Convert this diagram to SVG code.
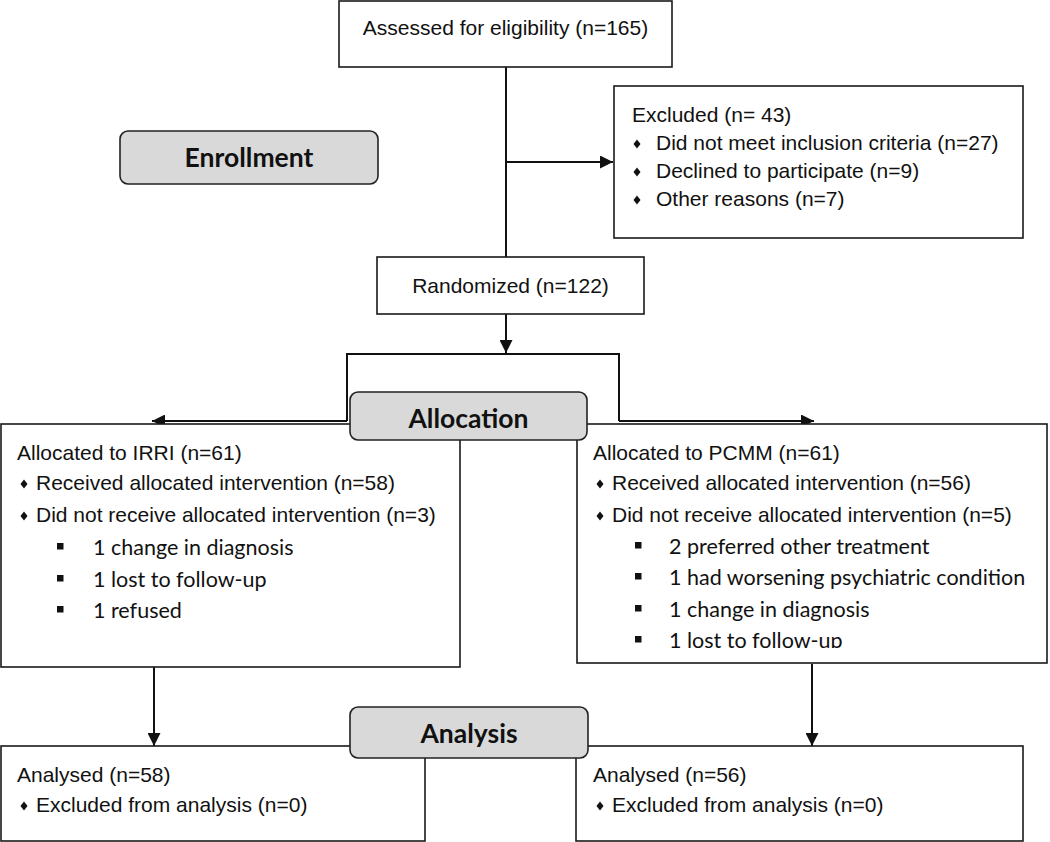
<svg xmlns="http://www.w3.org/2000/svg" width="1050" height="842" viewBox="0 0 1050 842">
<style>
.box{fill:#fff;stroke:#1a1a1a;stroke-width:1.6}
.lab{fill:#d9d9d9;stroke:#222;stroke-width:1.6}
.t{font-family:"Liberation Sans",Arial,sans-serif;font-size:21px;fill:#111}
.s{font-family:Lato,"Open Sans",sans-serif;font-size:21.5px;fill:#111}
.b{font-family:Lato,"Open Sans",sans-serif;font-size:26.5px;font-weight:bold;fill:#111;text-anchor:middle}
.ln{fill:none;stroke:#111;stroke-width:2}
</style>
<defs>
<marker id="ah" viewBox="0 0 10 10" refX="10" refY="5" markerWidth="6.5" markerHeight="6.5" orient="auto" markerUnits="strokeWidth">
<path d="M0,0 L10,5 L0,10 z" fill="#111"/>
</marker>
<path id="dia" d="M0,-4.5 L3.5,0 L0,4.5 L-3.5,0 z" fill="#111"/>
<rect id="sq" x="0" y="-11" width="6.5" height="6.5" fill="#111"/>
<clipPath id="clipR"><rect x="577" y="423" width="470" height="225"/></clipPath>
</defs>

<g id="connectors">
<line class="ln" x1="506" y1="67" x2="506" y2="257"/>
<line class="ln" x1="506" y1="162" x2="613" y2="162" marker-end="url(#ah)"/>
<line class="ln" x1="506" y1="314" x2="506" y2="353" marker-end="url(#ah)"/>
<polyline class="ln" points="347,421 347,354 619,354 619,421"/>
<line class="ln" x1="347" y1="421" x2="152" y2="421" marker-end="url(#ah)"/>
<line class="ln" x1="619" y1="421" x2="814" y2="421" marker-end="url(#ah)"/>
<line class="ln" x1="154" y1="667" x2="154" y2="746" marker-end="url(#ah)"/>
<line class="ln" x1="812" y1="664" x2="812" y2="746" marker-end="url(#ah)"/>
</g>

<g id="assessed">
<rect class="box" x="339" y="1" width="333" height="66"/>
<text class="t" x="505.5" y="35" text-anchor="middle">Assessed for eligibility (n=165)</text>
</g>

<g id="excluded">
<rect class="box" x="614" y="86" width="409" height="152"/>
<text class="t" x="632" y="122">Excluded (n= 43)</text>
<use href="#dia" x="637" y="144"/>
<text class="t" x="656" y="150">Did not meet inclusion criteria (n=27)</text>
<use href="#dia" x="637" y="172"/>
<text class="t" x="656" y="178">Declined to participate (n=9)</text>
<use href="#dia" x="637" y="200"/>
<text class="t" x="656" y="206">Other reasons (n=7)</text>
</g>

<g id="enrollment">
<rect class="lab" x="120" y="131" width="258" height="53" rx="8"/>
<text class="b" x="249" y="167">Enrollment</text>
</g>

<g id="randomized">
<rect class="box" x="377" y="257" width="267" height="57"/>
<text class="t" x="510.5" y="293" text-anchor="middle">Randomized (n=122)</text>
</g>

<g id="irri">
<rect class="box" x="1" y="424" width="459" height="243"/>
<text class="t" x="17" y="460">Allocated to IRRI (n=61)</text>
<use href="#dia" x="24" y="484"/>
<text class="t" x="36" y="490">Received allocated intervention (n=58)</text>
<use href="#dia" x="24" y="516"/>
<text class="t" x="36" y="522">Did not receive allocated intervention (n=3)</text>
<use href="#sq" x="57" y="554"/>
<text class="s" x="93" y="555">1 change in diagnosis</text>
<use href="#sq" x="57" y="586"/>
<text class="s" x="93" y="587">1 lost to follow-up</text>
<use href="#sq" x="57" y="617"/>
<text class="s" x="93" y="618">1 refused</text>
</g>

<g id="pcmm">
<rect class="box" x="577" y="424" width="470" height="239"/>
<text class="t" x="593" y="460">Allocated to PCMM (n=61)</text>
<use href="#dia" x="600" y="484"/>
<text class="t" x="612" y="490">Received allocated intervention (n=56)</text>
<use href="#dia" x="600" y="516"/>
<text class="t" x="612" y="522">Did not receive allocated intervention (n=5)</text>
<use href="#sq" x="635" y="553"/>
<text class="s" x="669" y="554">2 preferred other treatment</text>
<use href="#sq" x="635" y="584"/>
<text class="s" x="669" y="585">1 had worsening psychiatric condition</text>
<use href="#sq" x="635" y="616"/>
<text class="s" x="669" y="617">1 change in diagnosis</text>
<use href="#sq" x="635" y="647"/>
<text class="s" x="669" y="648" clip-path="url(#clipR)">1 lost to follow-up</text>
</g>

<g id="allocation">
<rect class="lab" x="350" y="392" width="237" height="48" rx="8"/>
<text class="b" x="468.5" y="428">Allocation</text>
</g>

<g id="analysed-irri">
<rect class="box" x="1" y="746" width="424" height="95"/>
<text class="t" x="17" y="782">Analysed (n=58)</text>
<use href="#dia" x="24" y="806"/>
<text class="t" x="36" y="812">Excluded from analysis (n=0)</text>
</g>

<g id="analysed-pcmm">
<rect class="box" x="576" y="746" width="447" height="95"/>
<text class="t" x="593" y="782">Analysed (n=56)</text>
<use href="#dia" x="600" y="806"/>
<text class="t" x="612" y="812">Excluded from analysis (n=0)</text>
</g>

<g id="analysis">
<rect class="lab" x="350" y="707" width="238" height="51" rx="8"/>
<text class="b" x="469" y="743">Analysis</text>
</g>
</svg>
